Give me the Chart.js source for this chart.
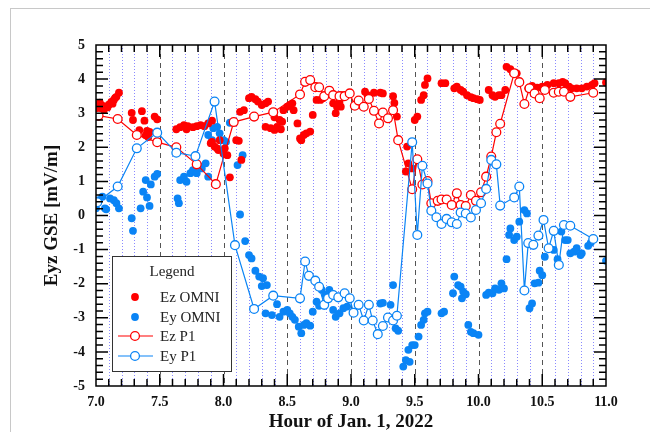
<!DOCTYPE html>
<html>
<head>
<meta charset="utf-8">
<script src="https://cdn.jsdelivr.net/npm/chart.js@4"></script>
<style>
  html, body { margin: 0; padding: 0; background: #fff; }
  #wrap { position: relative; width: 650px; height: 432px; }
  #page { position: absolute; left: 10px; top: 8px; right: 0; bottom: 0;
          border-left: 1px solid #c8c8c8; border-top: 1px solid #c8c8c8; }
  canvas { position: absolute; left: 0; top: 0; }
</style>
</head>
<body>
<div id="wrap">
  <div id="page"></div>
  <canvas id="eyzChart" width="650" height="432"></canvas>
</div>
<script>
// Ez OMNI (red dots)
const ezOmniHour = [7.00, 7.01, 7.03, 7.03, 7.05, 7.06, 7.09, 7.10, 7.12, 7.13, 7.14, 7.15, 7.16, 7.18,
  7.28, 7.29, 7.34, 7.36, 7.38, 7.39, 7.40, 7.41, 7.42, 7.46, 7.48,
  7.63, 7.66, 7.69, 7.71, 7.72, 7.76, 7.79, 7.82, 7.85, 7.88, 7.91,
  7.90, 7.91, 7.93, 7.95, 7.97, 7.96, 8.00, 8.01, 8.03, 8.05, 8.10, 8.12, 8.14,
  8.13, 8.16, 8.20, 8.22, 8.25, 8.27, 8.30, 8.33, 8.35,
  8.33, 8.37, 8.40, 8.42, 8.45, 8.40, 8.44, 8.46,
  8.47, 8.50, 8.52, 8.54, 8.55, 8.58,
  8.60, 8.61, 8.63, 8.65, 8.68, 8.70,
  8.72, 8.73, 8.76, 8.78, 8.85, 8.86, 8.88, 8.89, 8.92, 8.93, 8.91,
  9.11, 9.13, 9.18, 9.23, 9.25, 9.33, 9.34, 9.36,
  9.43, 9.44, 9.45, 9.48,
  9.50, 9.52, 9.55, 9.57, 9.58, 9.60,
  9.71, 9.74, 9.81, 9.83, 9.86, 9.88, 9.91, 9.94, 9.96, 9.99, 10.01,
  10.08, 10.11, 10.13, 10.16, 10.18, 10.21, 10.22, 10.25, 10.27, 10.30,
  10.39, 10.42, 10.46, 10.50, 10.54, 10.59, 10.63, 10.66, 10.68, 10.71, 10.73, 10.77, 10.81, 10.85, 10.89, 10.91, 11.00];
const ezOmniVal = [3.04, 3.20, 3.31, 3.12, 3.22, 3.09, 3.17, 3.25, 3.33, 3.28, 3.39, 3.45, 3.48, 3.60,
  3.01, 2.80, 2.50, 3.06, 2.78, 2.35, 2.48, 2.30, 2.45, 2.90, 2.82,
  2.53, 2.59, 2.65, 2.53, 2.62, 2.59, 2.62, 2.65, 2.62, 2.70, 2.78,
  2.12, 2.16, 2.02, 1.97, 2.21, 1.92, 1.82, 1.97, 1.77, 1.12, 2.21, 2.19, 1.63,
  3.04, 3.09, 3.44, 3.48, 3.41, 3.34, 3.24, 3.29, 3.34,
  2.60, 2.56, 2.51, 2.60, 2.53, 2.88, 2.80, 2.75,
  3.09, 3.19, 3.24, 3.29, 3.09, 2.70,
  2.26, 2.21, 2.36, 2.41, 2.46, 2.95,
  3.80, 3.39, 3.39, 3.44, 3.58, 3.29, 3.00, 3.19, 3.19, 3.53, 3.34,
  3.63, 3.53, 3.60, 3.60, 3.58, 3.50, 3.30, 2.90,
  1.29, 2.02, 1.53, 1.38,
  2.80, 2.90, 3.39, 3.53, 3.83, 4.02,
  3.88, 3.88, 3.73, 3.78, 3.68, 3.63, 3.53, 3.47, 3.44, 3.41, 3.39,
  3.68, 3.53, 3.48, 3.53, 3.53, 3.68, 4.36, 4.29, 4.19, 4.17,
  3.73, 3.80, 3.75, 3.78, 3.83, 3.88, 3.88, 3.92, 3.88, 3.78, 3.73, 3.73, 3.73, 3.78, 3.83, 3.88, 3.90];

// Ey OMNI (blue dots)
const eyOmniHour = [7.00, 7.02, 7.05, 7.07, 7.08, 7.11, 7.14, 7.16, 7.18,
  7.28, 7.29, 7.35, 7.37, 7.39, 7.40, 7.42, 7.43, 7.46, 7.48,
  7.64, 7.65, 7.66, 7.69, 7.71, 7.74, 7.76, 7.79, 7.81, 7.83, 7.86, 7.88,
  7.88, 7.91, 7.92, 7.95, 7.97, 8.00, 8.02, 8.05,
  8.11, 8.15, 8.13,
  8.17, 8.20, 8.22, 8.25, 8.28, 8.31, 8.30, 8.34,
  8.33, 8.38, 8.42, 8.44, 8.47, 8.50, 8.52, 8.54, 8.56, 8.59, 8.61, 8.63, 8.65, 8.68,
  8.70, 8.73, 8.75, 8.77, 8.80, 8.83, 8.86, 8.88, 8.91, 8.94, 8.97,
  9.23, 9.25, 9.31, 9.33, 9.35, 9.37,
  9.41, 9.43, 9.45, 9.46, 9.48, 9.50, 9.53, 9.55, 9.57, 9.58, 9.60,
  9.71, 9.73, 9.80, 9.81, 9.84, 9.86, 9.87, 9.88, 9.90,
  9.92, 9.94, 9.96, 10.00,
  10.06, 10.08, 10.11, 10.13, 10.16, 10.18, 10.20,
  10.22, 10.24, 10.25, 10.28, 10.30, 10.32, 10.36, 10.38,
  10.40, 10.42, 10.44, 10.47, 10.48, 10.50, 10.52,
  10.59, 10.62, 10.65, 10.68, 10.70, 10.72, 10.75, 10.77, 10.80, 10.81, 10.86, 10.88, 11.00];
const eyOmniVal = [0.21, 0.45, 0.55, 0.21, 0.18, 0.50, 0.45, 0.36, 0.21,
  -0.08, -0.45, 0.21, 0.70, 1.04, 0.53, 0.28, 0.91, 1.14, 1.22,
  0.50, 0.36, 1.04, 1.14, 0.99, 1.24, 1.33, 1.24, 1.45, 1.38, 1.53, 1.14,
  2.36, 2.21, 2.56, 2.60, 2.41, 2.21, 2.16, 2.72,
  1.48, 1.77, 0.03,
  -0.75, -1.16, -1.26, -1.62, -1.79, -1.84, -2.07, -2.04,
  -2.87, -2.92, -2.60, -2.97, -2.82, -2.77, -2.87, -2.97, -3.06, -3.26, -3.45, -3.21, -3.16, -3.23,
  -2.82, -2.53, -2.65, -2.18, -2.33, -2.18, -2.77, -2.97, -2.87, -2.72, -2.67,
  -2.58, -2.56, -2.62, -2.04, -3.31, -3.38,
  -4.43, -4.24, -3.94, -4.29, -3.80, -3.80, -3.55, -3.21, -3.06, -2.87, -2.82,
  -2.87, -2.82, -2.28, -1.79, -2.04, -2.09, -2.43, -2.23, -2.31,
  -3.21, -3.41, -3.45, -3.50,
  -2.33, -2.26, -2.28, -2.14, -2.18, -1.99, -2.14,
  -1.28, -0.57, -0.38, -0.72, -0.62, -0.18, 0.16, 0.06,
  -2.72, -2.58, -1.99, -1.97, -1.62, -1.75, -1.21,
  -1.01, -1.28, -0.47, -0.72, -0.72, -1.11, -1.06, -0.96, -1.16, -1.11, -0.89, -0.80, -1.33];

// Ez P1 (red line, open circles)
const ezP1Hour = [7.02, 7.17, 7.32, 7.48, 7.63, 7.79, 7.94, 8.08, 8.24, 8.39, 8.60, 8.64, 8.68, 8.72, 8.75,
  8.79, 8.83, 8.86, 8.91, 8.95, 8.99, 9.03, 9.06, 9.10, 9.14, 9.18, 9.22, 9.25, 9.29, 9.33, 9.37,
  9.48, 9.52, 9.56, 9.60, 9.63, 9.68, 9.71, 9.75, 9.79, 9.83, 9.86, 9.90, 9.94, 9.98, 10.02, 10.06,
  10.10, 10.14, 10.17, 10.28, 10.32, 10.36, 10.40, 10.44, 10.48, 10.52, 10.59, 10.63, 10.67, 10.72, 10.90];
const ezP1Val = [2.93, 2.83, 2.36, 2.15, 2.00, 1.50, 0.92, 2.74, 2.90, 3.03, 3.55, 3.92, 3.97, 3.76, 3.76,
  3.50, 3.66, 3.53, 3.50, 3.50, 3.58, 3.22, 3.37, 3.19, 3.42, 3.07, 2.70, 3.02, 2.85, 3.09, 2.21,
  0.77, 1.65, 0.91, 1.01, 0.36, 0.43, 0.47, 0.47, 0.31, 0.65, 0.31, 0.28, 0.60, 0.43, 0.68, 1.14,
  1.73, 2.44, 2.69, 4.17, 3.91, 3.27, 3.73, 3.58, 3.44, 3.68, 3.60, 3.63, 3.63, 3.48, 3.60];

// Ey P1 (blue line, open circles)
const eyP1Hour = [7.01, 7.17, 7.32, 7.48, 7.63, 7.78, 7.93, 8.09, 8.24, 8.39, 8.60, 8.64, 8.67, 8.72, 8.75,
  8.79, 8.82, 8.86, 8.90, 8.95, 8.99, 9.02, 9.06, 9.10, 9.14, 9.17, 9.21, 9.25, 9.29, 9.33, 9.36,
  9.48, 9.52, 9.56, 9.60, 9.63, 9.67, 9.71, 9.75, 9.79, 9.83, 9.86, 9.90, 9.94, 9.98, 10.02, 10.06,
  10.10, 10.14, 10.17, 10.28, 10.32, 10.36, 10.39, 10.43, 10.47, 10.51, 10.55, 10.59, 10.63, 10.67, 10.72, 10.90];
const eyP1Val = [0.39, 0.85, 1.97, 2.43, 1.84, 1.74, 3.34, -0.87, -2.74, -2.35, -2.43, -1.35, -1.77, -1.91, -2.09,
  -2.62, -2.43, -2.33, -2.40, -2.28, -2.43, -2.85, -2.62, -3.08, -2.62, -3.08, -3.48, -3.24, -2.99, -3.08, -2.94,
  2.15, -0.57, 1.46, 0.94, 0.14, -0.05, -0.25, -0.10, -0.20, -0.25, 0.09, 0.06, -0.06, 0.16, 0.36, 0.78,
  1.63, 1.50, 0.29, 0.53, 0.85, -2.20, -0.81, -0.86, -0.59, -0.13, -0.96, -0.45, -1.45, -0.28, -0.30, -0.69];

const xMin = 7, xMax = 11, xMajor = 0.5, xMinor = 0.1;
const yMin = -5, yMax = 5, yMajor = 1, yMinor = 0.2;

const RED = '#ff0000';
const BLUE = '#0a84f5';
const SERIF = "'Liberation Serif', 'Times New Roman', serif";

function pts(xs, ys) {
    return xs.map((h, i) => ({ x: h, y: ys[i] }));
}

// grid lines, inward ticks and the box round the plot
const framePlugin = {
    id: 'frame',
    beforeDatasetsDraw(chart) {
        const { ctx, chartArea: a, scales: { x } } = chart;
        ctx.save();
        const n = Math.round((xMax - xMin) / xMinor);
        for (let i = 1; i < n; i++) {
            const px = Math.round(x.getPixelForValue(xMin + i * xMinor)) + 0.5;
            ctx.beginPath();
            if (i % 5 === 0) {
                ctx.strokeStyle = '#555';
                ctx.setLineDash([5, 4]);
            } else {
                ctx.strokeStyle = '#8a8aff';
                ctx.setLineDash([1, 2]);
            }
            ctx.lineWidth = 1;
            ctx.moveTo(px, a.top);
            ctx.lineTo(px, a.bottom);
            ctx.stroke();
        }
        ctx.restore();
    },
    afterDatasetsDraw(chart) {
        const { ctx, chartArea: a, scales: { x, y } } = chart;
        ctx.save();
        ctx.strokeStyle = '#000';
        ctx.lineWidth = 1.5;
        ctx.beginPath();
        const nx = Math.round((xMax - xMin) / xMinor);
        for (let i = 1; i < nx; i++) {
            const px = x.getPixelForValue(xMin + i * xMinor);
            const len = i % 5 === 0 ? 12 : 7;
            ctx.moveTo(px, a.bottom); ctx.lineTo(px, a.bottom - len);
            ctx.moveTo(px, a.top); ctx.lineTo(px, a.top + len);
        }
        const ny = Math.round((yMax - yMin) / yMinor);
        for (let i = 1; i < ny; i++) {
            const py = y.getPixelForValue(yMin + i * yMinor);
            const len = i % 5 === 0 ? 12 : 7;
            ctx.moveTo(a.left, py); ctx.lineTo(a.left + len, py);
            ctx.moveTo(a.right, py); ctx.lineTo(a.right - len, py);
        }
        ctx.stroke();
        ctx.strokeRect(a.left, a.top, a.right - a.left, a.bottom - a.top);
        ctx.restore();
    },
    afterDraw(chart) {
        const ctx = chart.ctx;
        const bx = 112.5, by = 256.5, bw = 119, bh = 115;
        ctx.save();
        ctx.fillStyle = '#fff';
        ctx.fillRect(bx, by, bw, bh);
        ctx.strokeStyle = '#333';
        ctx.lineWidth = 1;
        ctx.strokeRect(bx, by, bw, bh);
        ctx.fillStyle = '#222';
        ctx.font = '15px ' + SERIF;
        ctx.textBaseline = 'middle';
        ctx.textAlign = 'center';
        ctx.fillText('Legend', bx + bw / 2, 272);
        ctx.textAlign = 'left';
        const rows = chart.data.datasets;
        const rowY = [297, 317, 336, 356];
        rows.forEach((ds, i) => {
            const cy = rowY[i];
            if (ds.showLine) {
                ctx.strokeStyle = ds.borderColor;
                ctx.lineWidth = 1.2;
                ctx.beginPath();
                ctx.moveTo(118, cy); ctx.lineTo(153, cy);
                ctx.stroke();
                ctx.fillStyle = '#fff';
                ctx.beginPath();
                ctx.arc(135, cy, 4.4, 0, Math.PI * 2);
                ctx.fill();
                ctx.lineWidth = 1.3;
                ctx.stroke();
            } else {
                ctx.fillStyle = ds.backgroundColor;
                ctx.beginPath();
                ctx.arc(135, cy, 3.9, 0, Math.PI * 2);
                ctx.fill();
            }
            ctx.fillStyle = '#222';
            ctx.fillText(ds.label, 160, cy + 1);
        });
        ctx.restore();
    }
};

new Chart(document.getElementById('eyzChart'), {
    type: 'scatter',
    data: {
        datasets: [
            { label: 'Ez OMNI', data: pts(ezOmniHour, ezOmniVal), backgroundColor: RED, borderWidth: 0, pointRadius: 3.9, showLine: false, order: 2 },
            { label: 'Ey OMNI', data: pts(eyOmniHour, eyOmniVal), backgroundColor: BLUE, borderWidth: 0, pointRadius: 3.9, showLine: false, order: 3 },
            { label: 'Ez P1', data: pts(ezP1Hour, ezP1Val), borderColor: RED, borderWidth: 1.2, showLine: true,
              pointRadius: 4.4, pointBackgroundColor: '#fff', pointBorderColor: RED, pointBorderWidth: 1.3, order: 1 },
            { label: 'Ey P1', data: pts(eyP1Hour, eyP1Val), borderColor: BLUE, borderWidth: 1.2, showLine: true,
              pointRadius: 4.4, pointBackgroundColor: '#fff', pointBorderColor: BLUE, pointBorderWidth: 1.3, order: 0 }
        ]
    },
    options: {
        responsive: false,
        animation: false,
        layout: { padding: { left: 43, right: 44, top: 45, bottom: 0 } },
        plugins: { legend: { display: false }, tooltip: { enabled: false } },
        scales: {
            x: {
                type: 'linear', min: xMin, max: xMax,
                grid: { display: false, drawTicks: false },
                border: { display: false },
                ticks: { stepSize: xMajor, padding: 8, color: '#111', font: { family: SERIF, size: 14, weight: 'bold' },
                         callback: v => v.toFixed(1) },
                title: { display: true, text: 'Hour of Jan. 1, 2022', color: '#111', padding: 0,
                         font: { family: SERIF, size: 19, weight: 'bold', lineHeight: 1 } },
                afterFit: s => { s.height = 46; }
            },
            y: {
                type: 'linear', min: yMin, max: yMax,
                grid: { display: false, drawTicks: false },
                border: { display: false },
                ticks: { stepSize: yMajor, padding: 11, color: '#111', font: { family: SERIF, size: 14, weight: 'bold' } },
                title: { display: true, text: 'Eyz GSE [mV/m]', color: '#111', padding: 0,
                         font: { family: SERIF, size: 19, weight: 'bold', lineHeight: 1 } },
                afterFit: s => { s.width = 53; }
            }
        }
    },
    plugins: [framePlugin]
});
</script>
</body>
</html>
